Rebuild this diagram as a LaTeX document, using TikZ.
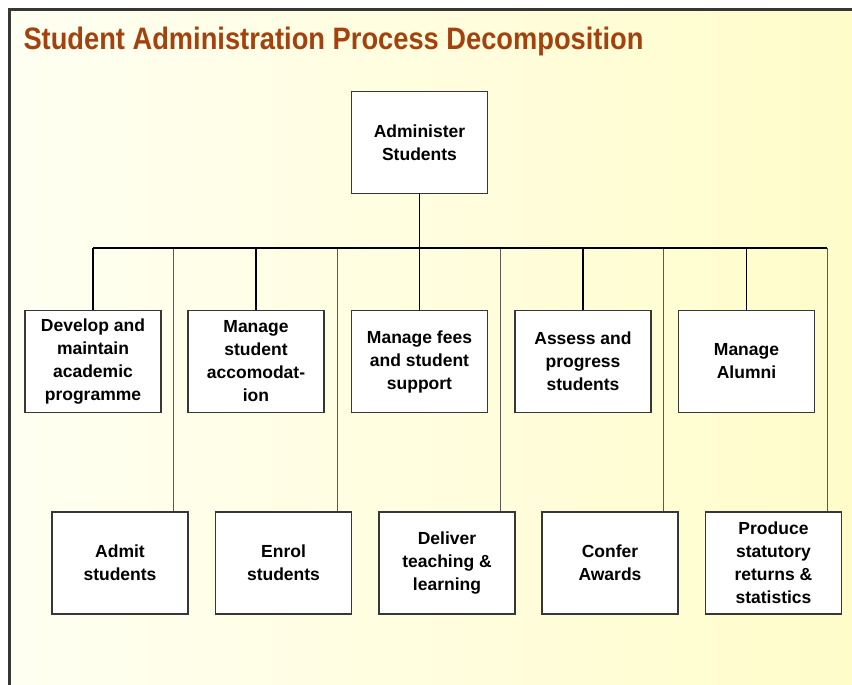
\documentclass[tikz,border=0pt]{standalone}
\usepackage{fontspec}
\setmainfont{Liberation Sans}
\usetikzlibrary{calc}
\definecolor{titlebrown}{RGB}{163,66,14}
\definecolor{paleleft}{RGB}{255,255,242}
\definecolor{paleright}{RGB}{255,252,202}
\definecolor{framegray}{RGB}{55,55,55}

\begin{document}
\begin{tikzpicture}[x=1pt,y=-1pt,
	proc/.style={draw=framegray, line width=1.6pt, fill=white,
		minimum width=136pt, minimum height=102pt, inner sep=0pt,
		align=center, font=\fontsize{17.5}{23}\selectfont\bfseries},
	major/.style={line width=1.4pt, black},
	minor/.style={line width=1pt, black!65}]
	\useasboundingbox (0,0) rectangle (852,685);
	
	% background and frame
	\fill[white] (0,0) rectangle (852,685);
	\fill[left color=paleleft, right color=paleright] (9,10) rectangle (852,685);
	\draw[line width=3pt, framegray] (9,685) -- (9,10) -- (852,10);
	
	\node[anchor=base west, text=titlebrown,
		font=\fontsize{31}{31}\selectfont\bfseries] (title) at (20,50)
		{\scalebox{0.88}[1]{Student Administration Process Decomposition}};
	
	% top process
	\node[proc] (admin) at (419.5,142.5) {Administer\\Students};
	\coordinate (bar) at (419.5,248);
	
	% first level
	\node[proc] (dev) at (93,361.5) {Develop and\\maintain\\academic\\programme};
	\node[proc] (accom) at (256,361.5) {Manage\\student\\accomodat-\\ion};
	\node[proc] (fees) at (419.5,361.5) {Manage fees\\and student\\support};
	\node[proc] (assess) at (583,361.5) {Assess and\\progress\\students};
	\node[proc] (alumni) at (746.5,361.5) {Manage\\Alumni};
	
	% second level
	\node[proc] (admit) at (120,563) {Admit\\students};
	\node[proc] (enrol) at (283.5,563) {Enrol\\students};
	\node[proc] (teach) at (447,563) {Deliver\\teaching \&\\learning};
	\node[proc] (confer) at (610,563) {Confer\\Awards};
	\node[proc] (returns) at (773.5,563) {Produce\\statutory\\returns \&\\statistics};
	
	% connectors
	\foreach \n in {admit,enrol,teach,confer,returns}
		\draw[minor] ([xshift=-15pt]\n.north east) -- ([xshift=-15pt]\n.north east |- bar);
	\draw[major] (admin.south) -- (bar);
	\draw[major] (dev.north |- bar) -- ([xshift=-15pt]returns.north east |- bar);
	\foreach \n in {dev,accom,fees,assess,alumni}
		\draw[major] (\n.north |- bar) -- (\n.north);
\end{tikzpicture}
\end{document}
